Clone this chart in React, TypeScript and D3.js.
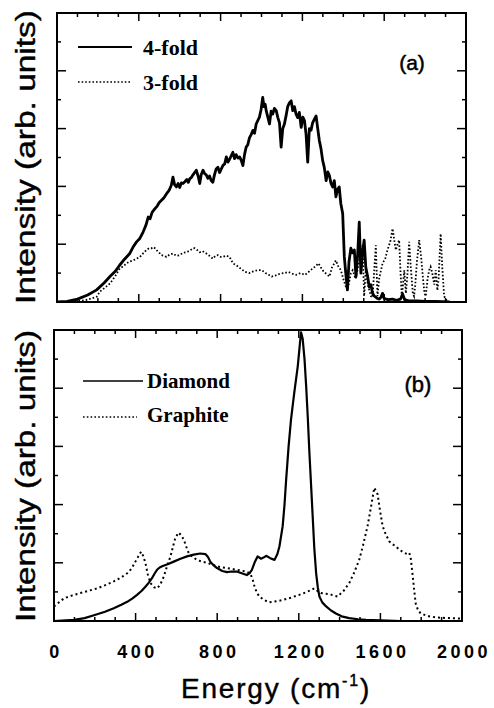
import React from "react";
import * as d3 from "d3";

// ---------- data ----------
const xTickValues = [0, 400, 800, 1200, 1600, 2000];
const xTickLabels = ["0", "400", "800", "1200", "1600", "2000"];

const fourFold: [number, number][] = [
  [0, 0], [50, 0.01], [100, 0.05], [150, 0.12], [194, 0.21], [230, 0.33], [259, 0.44], [285, 0.53],
  [307, 0.64], [330, 0.74], [356, 0.84], [372, 0.95], [389, 1.04], [405, 1.1], [421, 1.21], [435, 1.33],
  [446, 1.47], [455, 1.44], [465, 1.55], [478, 1.61], [490, 1.66], [500, 1.72], [511, 1.76], [522, 1.8],
  [535, 1.87], [548, 1.93], [559, 2.02], [567, 2.16], [575, 2.03], [584, 1.99], [592, 2.05], [600, 1.98],
  [608, 2.06], [616, 2.05], [625, 2.08], [635, 2.12], [642, 2.07], [649, 2.13], [658, 2.16], [665, 2.2],
  [673, 2.24], [681, 2.28], [690, 2.18], [698, 2.05], [705, 2.2], [714, 2.28], [722, 2.22], [730, 2.2],
  [738, 2.14], [746, 2.18], [754, 2.1], [762, 2.07], [770, 2.2], [778, 2.3], [787, 2.33], [795, 2.24],
  [803, 2.3], [811, 2.36], [820, 2.39], [828, 2.51], [836, 2.42], [844, 2.47], [852, 2.53], [860, 2.59],
  [868, 2.48], [876, 2.55], [885, 2.49], [893, 2.51], [901, 2.45], [909, 2.36], [917, 2.55], [925, 2.68],
  [933, 2.72], [941, 2.84], [950, 2.9], [958, 2.97], [966, 2.92], [974, 3.08], [982, 3.14], [990, 3.2],
  [998, 3.33], [1006, 3.54], [1012, 3.38], [1018, 3.42], [1023, 3.31], [1031, 3.2], [1039, 3.08], [1047, 3.3],
  [1055, 3.25], [1063, 3.35], [1072, 3.31], [1080, 3.19], [1088, 3.1], [1096, 2.68], [1104, 3.0], [1112, 3.08],
  [1120, 3.22], [1128, 3.38], [1137, 3.45], [1145, 3.48], [1153, 3.31], [1161, 3.38], [1169, 3.25], [1177, 3.19],
  [1185, 3.28], [1194, 3.02], [1202, 3.2], [1210, 3.14], [1218, 2.9], [1226, 2.42], [1234, 3.0], [1242, 2.97],
  [1250, 3.1], [1258, 3.16], [1267, 3.22], [1275, 3.0], [1283, 2.79], [1291, 2.65], [1299, 2.45], [1307, 2.33],
  [1316, 2.1], [1324, 2.25], [1332, 2.19], [1340, 2.05], [1348, 1.99], [1356, 2.1], [1364, 1.82], [1372, 1.95],
  [1380, 1.99], [1388, 1.7], [1397, 1.53], [1405, 0.78], [1412, 0.5], [1420, 0.21], [1428, 0.7], [1437, 0.93],
  [1445, 0.85], [1454, 0.9], [1462, 0.44], [1470, 0.8], [1478, 1.38], [1486, 0.5], [1494, 0.85], [1502, 1.07],
  [1510, 0.6], [1519, 0.44], [1527, 0.26], [1535, 0.3], [1543, 0.15], [1552, 0.1], [1560, 0.08], [1568, 0.06],
  [1576, 0.05], [1584, 0.08], [1592, 0.15], [1600, 0.06], [1620, 0.04], [1640, 0.05], [1660, 0.03], [1680, 0.05],
  [1690, 0.14], [1700, 0.04], [1720, 0.02], [1760, 0.02], [1800, 0.01], [1850, 0.01], [1920, 0],
];

const threeFold: [number, number][] = [
  [0, 0], [60, 0], [112, 0.02], [150, 0.04], [194, 0.09], [210, 0.18], [235, 0.25], [259, 0.32],
  [285, 0.45], [307, 0.58], [325, 0.62], [340, 0.67], [356, 0.7], [372, 0.72], [390, 0.75], [405, 0.78],
  [421, 0.84], [437, 0.9], [450, 0.93], [462, 0.93], [474, 0.95], [486, 0.9], [498, 0.86], [511, 0.81],
  [523, 0.8], [535, 0.78], [550, 0.82], [567, 0.84], [583, 0.8], [600, 0.81], [615, 0.85], [632, 0.86],
  [650, 0.89], [665, 0.93], [673, 0.93], [685, 0.9], [698, 0.86], [712, 0.88], [730, 0.84], [745, 0.8],
  [762, 0.75], [775, 0.8], [787, 0.81], [800, 0.78], [811, 0.78], [828, 0.8], [844, 0.78], [860, 0.67],
  [875, 0.64], [890, 0.6], [905, 0.56], [920, 0.52], [940, 0.5], [960, 0.53], [980, 0.55], [1002, 0.55],
  [1020, 0.5], [1035, 0.47], [1050, 0.44], [1070, 0.46], [1090, 0.49], [1110, 0.5], [1132, 0.52], [1150, 0.49],
  [1170, 0.47], [1190, 0.5], [1213, 0.47], [1230, 0.52], [1250, 0.58], [1265, 0.62], [1278, 0.67], [1290, 0.6],
  [1305, 0.52], [1320, 0.48], [1332, 0.44], [1345, 0.6], [1364, 0.72], [1375, 0.62], [1388, 0.55], [1400, 0.4],
  [1413, 0.26], [1421, 0.2], [1437, 0.5], [1446, 0.55], [1460, 0.4], [1475, 0.65], [1494, 0.98], [1502, 0.1],
  [1510, 0.55], [1520, 0.3], [1535, 0.1], [1543, 0.08], [1559, 0.98], [1567, 0.1], [1575, 0.4], [1592, 0.67],
  [1605, 0.75], [1616, 0.9], [1630, 1.05], [1641, 1.27], [1650, 1.05], [1657, 0.9], [1665, 1.0], [1673, 1.07],
  [1680, 0.5], [1686, 0.1], [1692, 0.3], [1698, 0.55], [1706, 0.15], [1714, 0.5], [1722, 1.04], [1730, 0.6],
  [1740, 0.15], [1746, 0.1], [1752, 0.3], [1760, 0.7], [1771, 1.07], [1780, 0.8], [1790, 0.4], [1797, 0.15],
  [1803, 0.1], [1812, 0.4], [1820, 0.55], [1827, 0.61], [1835, 0.5], [1845, 0.3], [1852, 0.55], [1860, 0.2],
  [1866, 0.4], [1876, 1.18], [1884, 0.6], [1893, 0.1], [1905, 0.03], [1920, 0],
];

const diamond: [number, number][] = [
  [0, 0], [98, 0.02], [150, 0.05], [196, 0.1], [250, 0.16], [293, 0.22], [330, 0.28], [359, 0.33],
  [385, 0.39], [407, 0.45], [430, 0.52], [448, 0.59], [465, 0.66], [481, 0.74], [494, 0.82], [505, 0.88],
  [518, 0.92], [530, 0.94], [560, 0.98], [587, 1.02], [620, 1.07], [652, 1.11], [685, 1.14], [717, 1.16],
  [742, 1.15], [755, 1.1], [766, 1.02], [782, 0.96], [799, 0.91], [825, 0.86], [848, 0.84], [870, 0.85],
  [896, 0.85], [920, 0.82], [945, 0.79], [958, 0.82], [970, 0.88], [985, 1.02], [998, 1.11], [1015, 1.07],
  [1027, 1.09], [1040, 1.12], [1060, 1.08], [1081, 1.05], [1095, 1.15], [1105, 1.28], [1121, 1.63], [1130, 2.0],
  [1138, 2.43], [1150, 3.0], [1162, 3.47], [1178, 3.93], [1195, 4.38], [1205, 4.75], [1211, 4.96], [1219, 4.85],
  [1228, 4.5], [1236, 4.04], [1244, 3.5], [1252, 2.89], [1260, 2.35], [1268, 1.8], [1276, 1.25], [1285, 0.82],
  [1293, 0.58], [1301, 0.42], [1315, 0.32], [1334, 0.25], [1358, 0.18], [1382, 0.13], [1410, 0.08], [1447, 0.05],
  [1490, 0.03], [1529, 0.02], [1600, 0.01], [1700, 0],
];

const graphite: [number, number][] = [
  [0, 0.25], [49, 0.39], [90, 0.44], [130, 0.48], [170, 0.52], [212, 0.56], [255, 0.62], [293, 0.68],
  [330, 0.75], [359, 0.82], [380, 0.9], [399, 1.02], [415, 1.12], [427, 1.19], [437, 1.12], [448, 1.0],
  [460, 0.8], [473, 0.65], [490, 0.58], [505, 0.56], [520, 0.62], [538, 0.76], [555, 0.95], [571, 1.11],
  [585, 1.3], [595, 1.43], [611, 1.52], [624, 1.47], [636, 1.4], [648, 1.28], [660, 1.17], [680, 1.1],
  [701, 1.05], [725, 1.02], [750, 1.0], [775, 0.97], [799, 0.94], [825, 0.92], [848, 0.91], [880, 0.89],
  [913, 0.87], [940, 0.85], [962, 0.82], [975, 0.7], [983, 0.59], [995, 0.48], [1007, 0.42], [1030, 0.36],
  [1056, 0.32], [1090, 0.34], [1121, 0.36], [1160, 0.4], [1203, 0.45], [1240, 0.5], [1276, 0.56], [1290, 0.52],
  [1309, 0.48], [1350, 0.46], [1390, 0.42], [1420, 0.52], [1447, 0.65], [1470, 0.82], [1496, 1.05], [1515, 1.3],
  [1537, 1.63], [1555, 1.98], [1570, 2.29], [1586, 2.18], [1598, 1.9], [1611, 1.63], [1625, 1.5], [1643, 1.37],
  [1660, 1.32], [1676, 1.28], [1692, 1.23], [1708, 1.19], [1730, 1.15], [1741, 1.17], [1748, 1.1], [1757, 0.82],
  [1765, 0.55], [1773, 0.3], [1785, 0.18], [1798, 0.13], [1820, 0.1], [1839, 0.08], [1880, 0.06], [1937, 0.05],
  [2000, 0.04],
];

const legendA = ["4-fold", "3-fold"];
const legendB = ["Diamond", "Graphite"];

// ---------- layout ----------
const W = 494;
const H = 708;
const sans = "'Liberation Sans', Arial, Helvetica, sans-serif";
const serif = "'Liberation Serif', 'Times New Roman', serif";

type Box = { x0: number; x1: number; y0: number; y1: number };
const boxA: Box = { x0: 57, x1: 466, y0: 13, y1: 302 };
const boxB: Box = { x0: 54, x1: 462, y0: 330, y1: 621 };

function Frame({ box, id, children }: { box: Box; id: string; children?: React.ReactNode }) {
  const x = d3.scaleLinear().domain([0, 2000]).range([box.x0, box.x1]);
  const y = d3.scaleLinear().domain([0, 5]).range([box.y1, box.y0]);
  const xt = d3.range(100, 2000, 100);
  const yt = d3.range(0.5, 5, 0.5);
  return (
    <g>
      <defs>
        <clipPath id={id}>
          <rect x={box.x0} y={box.y0} width={box.x1 - box.x0} height={box.y1 - box.y0} />
        </clipPath>
      </defs>
      {xt.map((t) => {
        const L = t % 400 === 0 ? 8 : 4;
        return (
          <g key={"x" + t} stroke="#000" strokeWidth={1.5}>
            <line x1={x(t)} x2={x(t)} y1={box.y1} y2={box.y1 - L} />
            <line x1={x(t)} x2={x(t)} y1={box.y0} y2={box.y0 + L} />
          </g>
        );
      })}
      {yt.map((t) => {
        const L = Number.isInteger(t) ? 9 : 4;
        return (
          <g key={"y" + t} stroke="#000" strokeWidth={1.5}>
            <line x1={box.x0} x2={box.x0 + L} y1={y(t)} y2={y(t)} />
            <line x1={box.x1} x2={box.x1 - L} y1={y(t)} y2={y(t)} />
          </g>
        );
      })}
      <g clipPath={`url(#${id})`}>{children}</g>
      <rect x={box.x0} y={box.y0} width={box.x1 - box.x0} height={box.y1 - box.y0} fill="none" stroke="#000" strokeWidth={2} />
    </g>
  );
}

function pathFor(box: Box, data: [number, number][]) {
  const x = d3.scaleLinear().domain([0, 2000]).range([box.x0, box.x1]);
  const y = d3.scaleLinear().domain([0, 5]).range([box.y1, box.y0]);
  return d3.line<[number, number]>().x((d) => x(d[0])).y((d) => y(d[1]))(data) || "";
}

export default function App() {
  const xB = d3.scaleLinear().domain([0, 2000]).range([boxB.x0, boxB.x1]);
  return (
    <svg width={W} height={H} style={{ position: "absolute", left: 0, top: 0, background: "#fff" }}>
      <rect width={W} height={H} fill="#fff" />
      {/* Panel (a) */}
      <Frame box={boxA} id="clipA">
        <path d={pathFor(boxA, threeFold)} fill="none" stroke="#000" strokeWidth={1.8} strokeDasharray="1.6 2" />
        <path d={pathFor(boxA, fourFold)} fill="none" stroke="#000" strokeWidth={2.8} strokeLinejoin="round" />
      </Frame>
      <line x1={78} x2={132} y1={47} y2={47} stroke="#000" strokeWidth={2} />
      <line x1={78} x2={132} y1={82} y2={82} stroke="#000" strokeWidth={1.6} strokeDasharray="1.6 2" />
      <text x={143} y={55} fontFamily={serif} fontWeight="bold" fontSize={22}>{legendA[0]}</text>
      <text x={143} y={90} fontFamily={serif} fontWeight="bold" fontSize={22}>{legendA[1]}</text>
      <text x={412} y={70} fontFamily={sans} fontSize={21} textAnchor="middle" stroke="#000" strokeWidth={0.5}>(a)</text>

      {/* Panel (b) */}
      <Frame box={boxB} id="clipB">
        <path d={pathFor(boxB, graphite)} fill="none" stroke="#000" strokeWidth={2} strokeDasharray="2 3" />
        <path d={pathFor(boxB, diamond)} fill="none" stroke="#000" strokeWidth={2.2} strokeLinejoin="round" />
      </Frame>
      <line x1={83} x2={143} y1={381} y2={381} stroke="#000" strokeWidth={1.6} />
      <line x1={83} x2={137} y1={417} y2={417} stroke="#000" strokeWidth={1.6} strokeDasharray="1.6 2.2" />
      <text x={147} y={388} fontFamily={serif} fontWeight="bold" fontSize={21}>{legendB[0]}</text>
      <text x={147} y={422} fontFamily={serif} fontWeight="bold" fontSize={21}>{legendB[1]}</text>
      <text x={418} y={392} fontFamily={sans} fontSize={22} textAnchor="middle" stroke="#000" strokeWidth={0.5}>(b)</text>

      {/* Y labels */}
      <text transform="translate(35,157) rotate(-90)" textAnchor="middle" fontFamily={sans} fontSize={27}
        stroke="#000" strokeWidth={0.4} textLength={294} lengthAdjust="spacingAndGlyphs">Intensity (arb. units)</text>
      <text transform="translate(35,476) rotate(-90)" textAnchor="middle" fontFamily={sans} fontSize={27}
        stroke="#000" strokeWidth={0.4} textLength={292} lengthAdjust="spacingAndGlyphs">Intensity (arb. units)</text>

      {/* X tick labels */}
      {xTickValues.map((v, i) => (
        <text key={v} x={xB(v) + 2} y={658} textAnchor="middle" fontFamily={sans} fontWeight="bold"
          fontSize={18} letterSpacing={3.5}>{xTickLabels[i]}</text>
      ))}

      {/* X label */}
      <text x={276} y={698} textAnchor="middle" fontFamily={sans} fontSize={28} letterSpacing={1.8}
        stroke="#000" strokeWidth={0.4}>
        <tspan>Energy (cm</tspan>
        <tspan dy={-12} fontSize={16}>-1</tspan>
        <tspan dy={12}>)</tspan>
      </text>
    </svg>
  );
}
